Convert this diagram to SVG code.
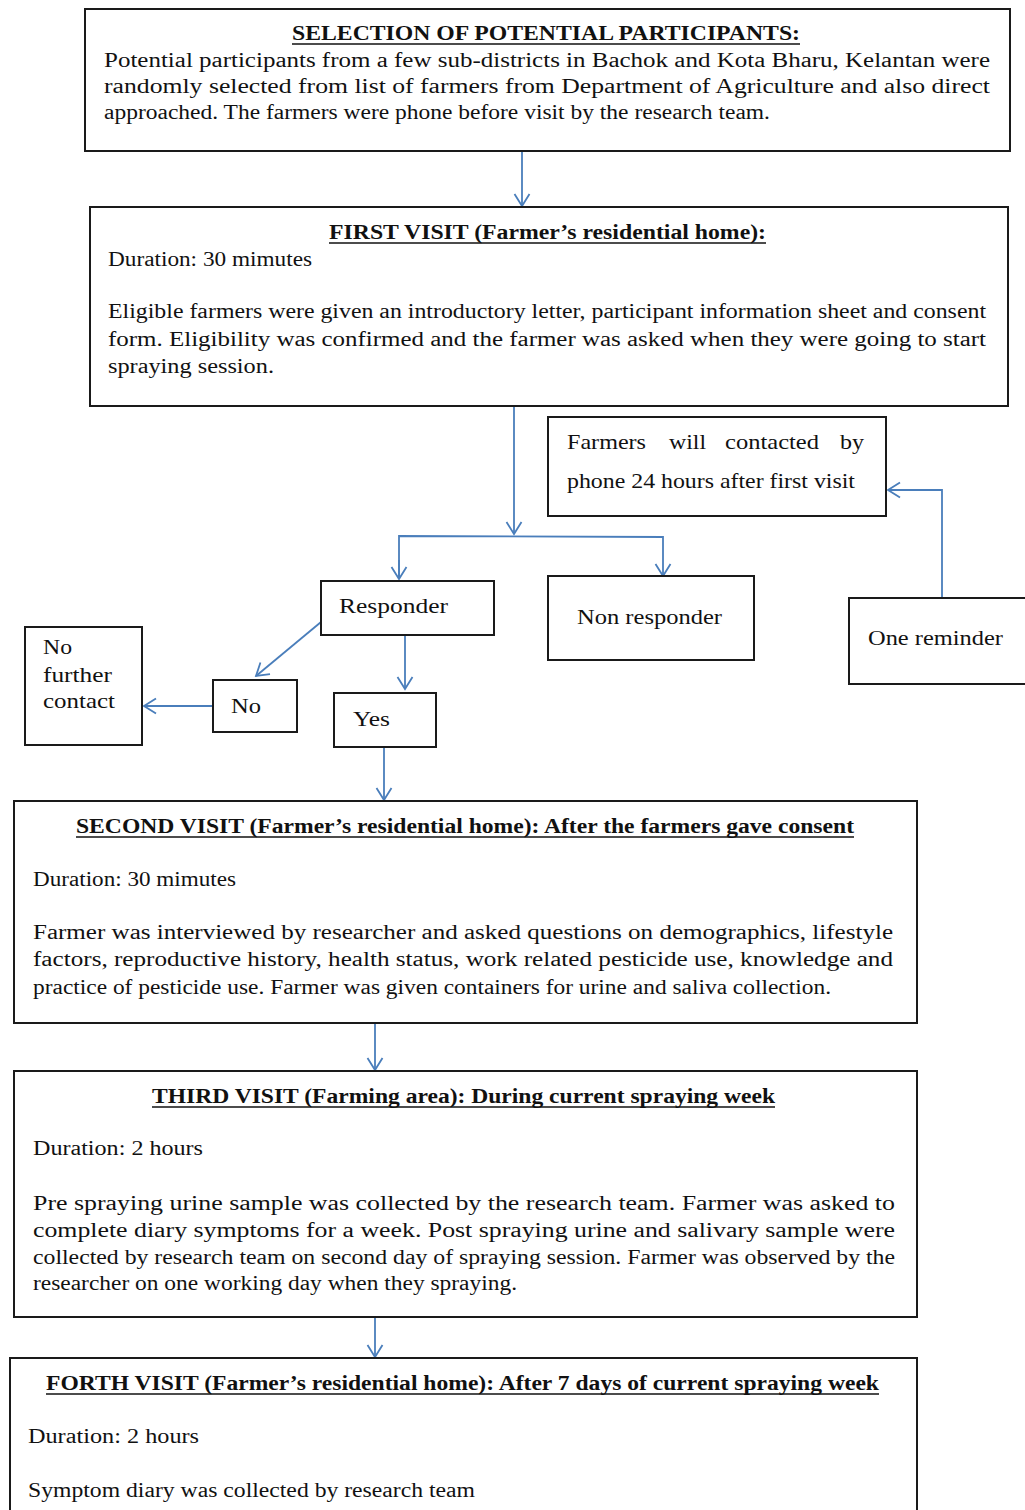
<svg xmlns="http://www.w3.org/2000/svg" width="1025" height="1510" viewBox="0 0 1025 1510">
<style>
.box{fill:#fff;stroke:#1a1a1a;stroke-width:2}
.t{font-family:"Liberation Serif","Times New Roman",serif;font-size:20px;fill:#111}
.s{font-size:22px}
.b{font-weight:bold}
.ul{stroke:#111;stroke-width:1.3}
.c{fill:none;stroke:#4a7ebb;stroke-width:1.8}
</style>
<defs>
<marker id="ah" markerUnits="userSpaceOnUse" markerWidth="18" markerHeight="18" refX="13" refY="9" orient="auto">
<path d="M1,1.5 L13,9 L1,16.5" fill="none" stroke="#4a7ebb" stroke-width="1.8"/>
</marker>
</defs>
<rect width="1025" height="1510" fill="#fff"/>

<g id="connectors">
<line class="c" x1="522" y1="151" x2="522" y2="206" marker-end="url(#ah)"/>
<line class="c" x1="514" y1="406" x2="514" y2="534" marker-end="url(#ah)"/>
<polyline class="c" points="399,579 399,536 663,537 663,576" marker-end="url(#ah)"/>
<line class="c" x1="399" y1="560" x2="399" y2="579" marker-end="url(#ah)"/>
<polyline class="c" points="942,598 942,490 888,490" marker-end="url(#ah)"/>
<line class="c" x1="405" y1="635" x2="405" y2="689" marker-end="url(#ah)"/>
<line class="c" x1="321" y1="622" x2="256" y2="676" marker-end="url(#ah)"/>
<line class="c" x1="213" y1="706" x2="144" y2="706" marker-end="url(#ah)"/>
<line class="c" x1="384" y1="747" x2="384" y2="800" marker-end="url(#ah)"/>
<line class="c" x1="375" y1="1023" x2="375" y2="1070" marker-end="url(#ah)"/>
<line class="c" x1="375" y1="1317" x2="375" y2="1357" marker-end="url(#ah)"/>
<line class="c" x1="80" y1="1002" x2="80" y2="1015" stroke-width="1.5" opacity="0.6"/>
</g>

<g id="selection">
<rect class="box" x="85" y="9" width="925" height="142"/>
<text class="t b" x="292" y="40" textLength="508" lengthAdjust="spacingAndGlyphs">SELECTION OF POTENTIAL PARTICIPANTS:</text>
<line class="ul" x1="292" y1="44" x2="800" y2="44"/>
<text class="t" x="104" y="67" textLength="886" lengthAdjust="spacingAndGlyphs">Potential participants from a few sub-districts in Bachok and Kota Bharu, Kelantan were</text>
<text class="t" x="104" y="93" textLength="886" lengthAdjust="spacingAndGlyphs">randomly selected from list of farmers from Department of Agriculture and also direct</text>
<text class="t" x="104" y="119" textLength="666" lengthAdjust="spacingAndGlyphs">approached. The farmers were phone before visit by the research team.</text>
</g>

<g id="first-visit">
<rect class="box" x="90" y="207" width="918" height="199"/>
<text class="t b" x="329" y="239" textLength="437" lengthAdjust="spacingAndGlyphs">FIRST VISIT (Farmer’s residential home):</text>
<line class="ul" x1="329" y1="243" x2="766" y2="243"/>
<text class="t" x="108" y="266" textLength="204" lengthAdjust="spacingAndGlyphs">Duration: 30 mimutes</text>
<text class="t" x="108" y="318" textLength="878" lengthAdjust="spacingAndGlyphs">Eligible farmers were given an introductory letter, participant information sheet and consent</text>
<text class="t" x="108" y="346" textLength="878" lengthAdjust="spacingAndGlyphs">form. Eligibility was confirmed and the farmer was asked when they were going to start</text>
<text class="t" x="108" y="373" textLength="166" lengthAdjust="spacingAndGlyphs">spraying session.</text>
</g>

<g id="phone-contact">
<rect class="box" x="548" y="417" width="338" height="99"/>
<text class="t s" x="567" y="449" textLength="79" lengthAdjust="spacingAndGlyphs">Farmers</text>
<text class="t s" x="669" y="449" textLength="37" lengthAdjust="spacingAndGlyphs">will</text>
<text class="t s" x="725" y="449" textLength="94" lengthAdjust="spacingAndGlyphs">contacted</text>
<text class="t s" x="840" y="449" textLength="24" lengthAdjust="spacingAndGlyphs">by</text>
<text class="t s" x="567" y="488" textLength="288" lengthAdjust="spacingAndGlyphs">phone 24 hours after first visit</text>
</g>

<g id="responder">
<rect class="box" x="321" y="581" width="173" height="54"/>
<text class="t s" x="339" y="613" textLength="109" lengthAdjust="spacingAndGlyphs">Responder</text>
</g>

<g id="non-responder">
<rect class="box" x="548" y="576" width="206" height="84"/>
<text class="t s" x="577" y="624" textLength="145" lengthAdjust="spacingAndGlyphs">Non responder</text>
</g>

<g id="one-reminder">
<rect class="box" x="849" y="598" width="185" height="86"/>
<text class="t s" x="868" y="645" textLength="135" lengthAdjust="spacingAndGlyphs">One reminder</text>
</g>

<g id="no-further-contact">
<rect class="box" x="25" y="627" width="117" height="118"/>
<text class="t s" x="43" y="654" textLength="29" lengthAdjust="spacingAndGlyphs">No</text>
<text class="t s" x="43" y="682" textLength="69" lengthAdjust="spacingAndGlyphs">further</text>
<text class="t s" x="43" y="708" textLength="72" lengthAdjust="spacingAndGlyphs">contact</text>
</g>

<g id="no">
<rect class="box" x="213" y="680" width="84" height="52"/>
<text class="t s" x="231" y="713" textLength="30" lengthAdjust="spacingAndGlyphs">No</text>
</g>

<g id="yes">
<rect class="box" x="334" y="693" width="102" height="54"/>
<text class="t s" x="353" y="726" textLength="37" lengthAdjust="spacingAndGlyphs">Yes</text>
</g>

<g id="second-visit">
<rect class="box" x="14" y="801" width="903" height="222"/>
<text class="t b" x="76" y="833" textLength="778" lengthAdjust="spacingAndGlyphs">SECOND VISIT (Farmer’s residential home): After the farmers gave consent</text>
<line class="ul" x1="76" y1="837" x2="854" y2="837"/>
<text class="t" x="33" y="886" textLength="203" lengthAdjust="spacingAndGlyphs">Duration: 30 mimutes</text>
<text class="t" x="33" y="939" textLength="860" lengthAdjust="spacingAndGlyphs">Farmer was interviewed by researcher and asked questions on demographics, lifestyle</text>
<text class="t" x="33" y="966" textLength="860" lengthAdjust="spacingAndGlyphs">factors, reproductive history, health status, work related pesticide use, knowledge and</text>
<text class="t" x="33" y="994" textLength="798" lengthAdjust="spacingAndGlyphs">practice of pesticide use. Farmer was given containers for urine and saliva collection.</text>
</g>

<g id="third-visit">
<rect class="box" x="14" y="1071" width="903" height="246"/>
<text class="t b" x="152" y="1103" textLength="623" lengthAdjust="spacingAndGlyphs">THIRD VISIT (Farming area): During current spraying week</text>
<line class="ul" x1="152" y1="1107" x2="775" y2="1107"/>
<text class="t" x="33" y="1155" textLength="170" lengthAdjust="spacingAndGlyphs">Duration: 2 hours</text>
<text class="t" x="33" y="1210" textLength="862" lengthAdjust="spacingAndGlyphs">Pre spraying urine sample was collected by the research team. Farmer was asked to</text>
<text class="t" x="33" y="1237" textLength="862" lengthAdjust="spacingAndGlyphs">complete diary symptoms for a week. Post spraying urine and salivary sample were</text>
<text class="t" x="33" y="1264" textLength="862" lengthAdjust="spacingAndGlyphs">collected by research team on second day of spraying session. Farmer was observed by the</text>
<text class="t" x="33" y="1290" textLength="484" lengthAdjust="spacingAndGlyphs">researcher on one working day when they spraying.</text>
</g>

<g id="forth-visit">
<rect class="box" x="10" y="1358" width="907" height="170"/>
<text class="t b" x="46" y="1390" textLength="833" lengthAdjust="spacingAndGlyphs">FORTH VISIT (Farmer’s residential home): After 7 days of current spraying week</text>
<line class="ul" x1="46" y1="1394" x2="879" y2="1394"/>
<text class="t" x="28" y="1443" textLength="171" lengthAdjust="spacingAndGlyphs">Duration: 2 hours</text>
<text class="t" x="28" y="1497" textLength="447" lengthAdjust="spacingAndGlyphs">Symptom diary was collected by research team</text>
</g>
</svg>
